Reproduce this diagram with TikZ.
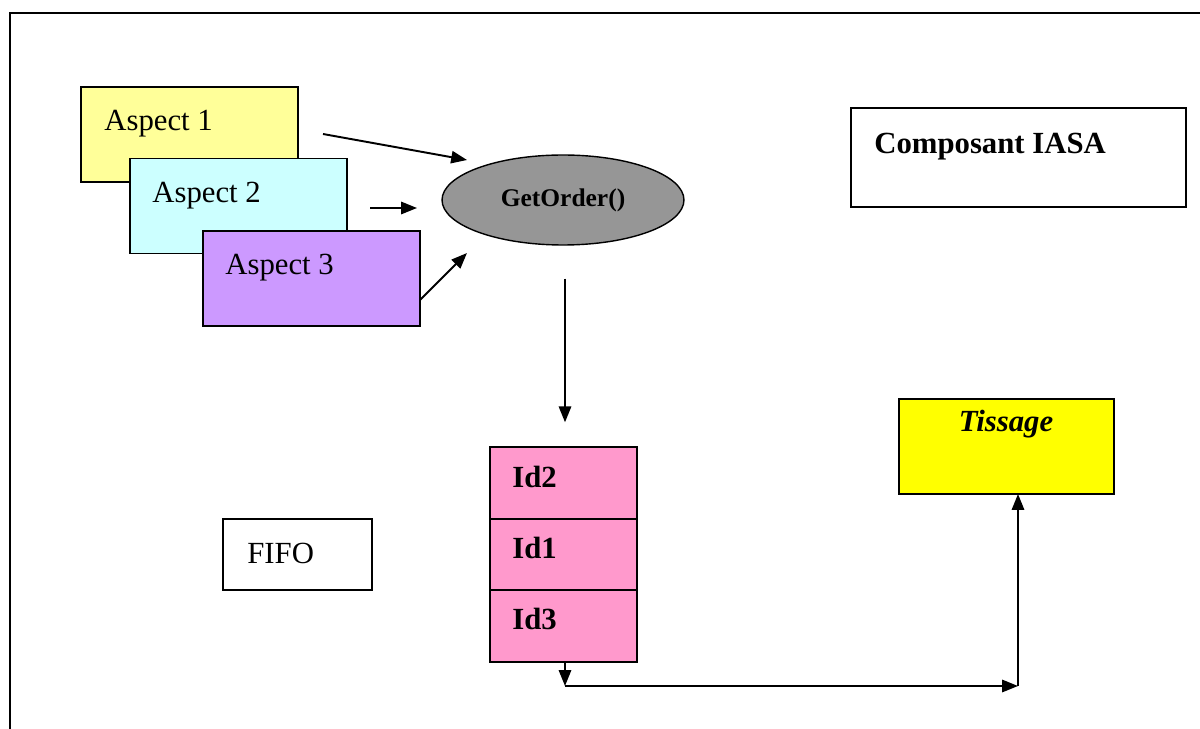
\documentclass[tikz,border=0pt]{standalone}
\usepackage{fontspec}
\setmainfont{Liberation Serif}
\usepackage{xcolor}
\usetikzlibrary{arrows.meta,positioning,shapes.geometric}
\definecolor{aspectone}{HTML}{FFFF99}
\definecolor{aspecttwo}{HTML}{CCFFFF}
\definecolor{aspectthree}{HTML}{CC99FF}
\definecolor{ordergray}{HTML}{969696}
\definecolor{queuepink}{HTML}{FF99CC}
\definecolor{weaveyellow}{HTML}{FFFF00}

\begin{document}
\begin{tikzpicture}[
  x=0.02cm, y=-0.02cm,
  font=\fontsize{17.5}{21}\selectfont,
  aspectbox/.style={rectangle, draw=black, line width=1.1pt, minimum width=4.34cm, minimum height=1.9cm, inner sep=0pt},
  plainbox/.style={rectangle, draw=black, line width=0.8pt, fill=white, inner sep=0pt},
  cellbox/.style={rectangle, draw=black, line width=1.1pt, fill=queuepink, minimum width=2.94cm, minimum height=1.43cm, inner sep=0pt},
  boxtext/.style={anchor=base west, inner sep=0pt},
  arrow/.style={-{Triangle[length=9pt,width=7pt]}, line width=1.1pt, black}
]
\useasboundingbox (0,0) rectangle (1200,729);
% outer frame
\draw[line width=1.4pt] (10,729) -- (10,13) -- (1200,13);
% aspects
\node[aspectbox, fill=aspectone] (a1) at (189.5,134.5) {};
\node[boxtext] (a1txt) at (104,131) {Aspect 1};
\node[aspectbox, fill=aspecttwo] (a2) at (238.5,206) {};
\node[boxtext] (a2txt) at (152,203) {Aspect 2};
\node[aspectbox, fill=aspectthree] (a3) at (311.5,278.5) {};
\node[boxtext] (a3txt) at (225,275) {Aspect 3};
\node[ellipse, draw=black, line width=0.8pt, fill=ordergray, minimum width=4.84cm, minimum height=1.8cm, inner sep=0pt, font=\fontsize{14.5}{17}\selectfont\bfseries] (order) at (563,200) {GetOrder()};
\coordinate (from1) at (323,134);
\coordinate (to1) at (467,160);
\coordinate (from2) at (370,208);
\coordinate (to2) at (417,208);
\coordinate (from3) at (420,300);
\coordinate (to3) at (467,253);
\draw[arrow] (from1) -- (to1);
\draw[arrow] (from2) -- (to2);
\draw[arrow] (from3) -- (to3);
% component label
\node[plainbox, minimum width=6.7cm, minimum height=1.98cm] (comp) at (1018.5,157.5) {};
\node[boxtext, font=\fontsize{17.5}{21}\selectfont\bfseries] (comptxt) at (874,154) {Composant IASA};
% fifo queue
\node[cellbox] (q2) at (563.5,483) {};
\node[boxtext, font=\fontsize{17.5}{21}\selectfont\bfseries] (q2txt) at (512,487) {Id2};
\node[cellbox] (q1) at (563.5,554.5) {};
\node[boxtext, font=\fontsize{17.5}{21}\selectfont\bfseries] (q1txt) at (512,558) {Id1};
\node[cellbox] (q3) at (563.5,626) {};
\node[boxtext, font=\fontsize{17.5}{21}\selectfont\bfseries] (q3txt) at (512,629) {Id3};
\node[plainbox, minimum width=2.98cm, minimum height=1.42cm] (fifo) at (297.5,554.5) {};
\node[boxtext] (fifotxt) at (247,563) {FIFO};
\coordinate (corner1) at (565,686);
\coordinate (corner2) at (1018,686);
\coordinate (weavein) at (1018,494);
\draw[arrow, shorten <=0.66cm, shorten >=0.48cm] (order.south -| corner1) -- (q2.north -| corner1);
% weaving
\node[rectangle, draw=black, line width=1.1pt, fill=weaveyellow, minimum width=4.3cm, minimum height=1.9cm, inner sep=0pt] (weave) at (1006.5,446.5) {};
\node[anchor=base, inner sep=0pt, font=\fontsize{17.5}{21}\selectfont\bfseries\itshape] (weavetxt) at (1006,431) {Tissage};
\draw[arrow] (q3.south -| corner1) -- (corner1);
\draw[arrow] (corner1) -- (corner2);
\draw[arrow] (corner2) -- (weavein);
\end{tikzpicture}
\end{document}
